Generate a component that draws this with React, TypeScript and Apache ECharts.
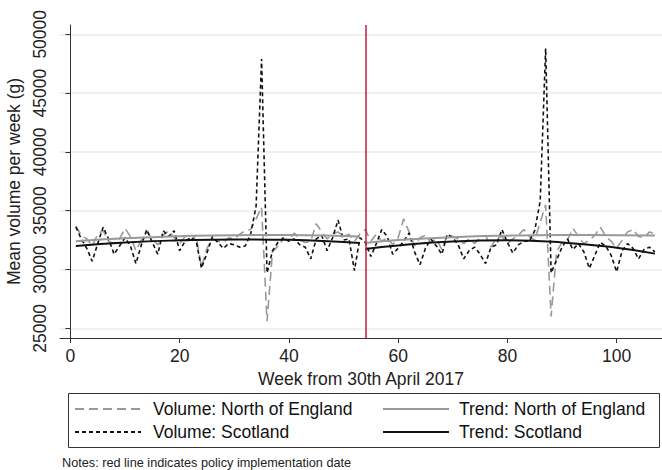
import React, { useEffect, useRef } from "react";
import * as echarts from "echarts";

// Weekly values, weeks 1..107
const volumeNorthEngland = [
  33700, 32900, 32600, 32000, 33000, 33300, 32400, 32200, 32600, 33500,
  32800, 31600, 32500, 33200, 32600, 32100, 32900, 33300, 32700, 32200,
  32800, 32500, 32900, 30200, 31800, 32600, 32400, 32300, 32700, 32600,
  33000, 33300, 33400, 34300, 35300, 25600, 31500, 32000, 32600, 32500,
  33100, 32500, 32300, 32400, 33900, 33200, 32600, 33000, 33200, 32800,
  33000, 32400, 33000,
  33400, 32400, 33000, 32400, 32700, 32100, 32700, 34300, 33200, 32000,
  32700, 32900, 32300, 32600, 31700, 33000, 32800, 32600, 32200, 32600,
  32200, 32700, 32900, 31900, 32700, 32800, 32200, 32600, 32900, 33400,
  32800, 32500, 34000, 35500, 26000, 31500, 32300, 32500, 33500, 32800,
  32200, 32500, 32900, 33600, 32800, 32400, 31800, 32500, 33200, 33400,
  32800, 32700, 33200, 33000,
];

const volumeScotland = [
  33600, 32600, 31800, 30700, 32200, 33600, 32600, 31300, 32000, 32700,
  32000, 30500, 32100, 33400, 32300, 31300, 33300, 32800, 33300, 31600,
  32400, 32700, 32500, 30100, 31400, 32800, 32300, 31800, 32200, 32100,
  31900, 32000, 33000, 35400, 47900, 29700, 31600, 32300, 32700, 32400,
  32600, 32100, 31900, 30900, 32600, 32900, 31600, 32700, 34200, 32500,
  32600, 29900, 32700,
  32300, 31100, 32200, 33400, 32800, 31300, 31800, 32400, 33100, 31500,
  30400, 31800, 32600, 32000, 31300, 33000, 32700, 32100, 30900, 31600,
  31900, 31300, 30500, 31900, 32100, 33400, 32300, 31400, 32100, 32400,
  32400, 33300, 35800, 48800, 29700, 30800, 31900, 32600, 31700, 32200,
  31500, 30100, 31200, 32300, 32000, 31200, 29800, 31600, 32200, 31800,
  30900, 31700, 31900, 31500,
];

// Trend readings (week, value) for the pre- and post-policy periods
const trendWeeksPre = [1, 10, 20, 30, 40, 50, 53];
const trendNorthEnglandPre = [32400, 32650, 32830, 32920, 32930, 32850, 32800];
const trendScotlandPre = [32000, 32300, 32480, 32560, 32520, 32330, 32250];
const trendWeeksPost = [54, 60, 70, 80, 90, 100, 107];
const trendNorthEnglandPost = [32250, 32500, 32750, 32880, 32930, 32920, 32900];
const trendScotlandPost = [31750, 32050, 32380, 32480, 32300, 31850, 31350];

const policyWeek = 54;
const yTicks = [25000, 30000, 35000, 40000, 45000, 50000];
const xTicks = [0, 20, 40, 60, 80, 100];

const FONT = "'Liberation Sans', Arial, sans-serif";
const FS = 17.5;
const GREY = "#999999";
const BLACK = "#111111";

const pairs = (weeks: number[], vals: number[]) => vals.map((v, i) => [weeks[i], v]);
const weekly = (vals: number[]) => vals.map((v, i) => [i + 1, v]);

export default function App() {
  const ref = useRef<HTMLDivElement>(null);
  useEffect(() => {
    if (!ref.current) return;
    const chart = echarts.init(ref.current, null, { renderer: "svg" });
    const trendBase = { type: "line", showSymbol: false, symbol: "none", z: 4 };
    const legendCommon = {
      top: 395,
      orient: "vertical",
      itemWidth: 66,
      itemHeight: 18,
      itemGap: 5,
      itemStyle: { opacity: 0 },
    };
    chart.setOption({
      animation: false,
      backgroundColor: "#ffffff",
      textStyle: { fontFamily: FONT },
      grid: { left: 60, right: 0, top: 25, bottom: 132, containLabel: false, outerBoundsMode: "none" },
      xAxis: {
        type: "value",
        min: -1.9,
        max: 108.3,
        name: "Week from 30th April 2017",
        nameLocation: "middle",
        nameGap: 31,
        nameTextStyle: { fontSize: FS, color: "#222", fontFamily: FONT },
        axisLine: { show: true, lineStyle: { color: "#333", width: 1 } },
        axisTick: { show: true, length: 5, customValues: xTicks, lineStyle: { color: "#333" } },
        axisLabel: { customValues: xTicks, fontSize: FS, color: "#222", margin: 9, fontFamily: FONT },
        splitLine: { show: false },
      },
      yAxis: {
        type: "value",
        min: 24175,
        max: 50790,
        name: "Mean volume per week (g)",
        nameLocation: "middle",
        nameGap: 29,
        nameTextStyle: { fontSize: FS, color: "#222", fontFamily: FONT },
        axisLine: { show: true, lineStyle: { color: "#333", width: 1 } },
        axisTick: { show: true, length: 5, customValues: yTicks, lineStyle: { color: "#333" } },
        axisLabel: {
          customValues: yTicks,
          rotate: 90,
          fontSize: FS,
          color: "#222",
          margin: 11,
          fontFamily: FONT,
          formatter: (v: number) => String(Math.round(v)),
        },
        splitLine: { show: true, lineStyle: { color: "#e6eef2", width: 1.5 } },
      },
      legend: [
        {
          ...legendCommon,
          left: 69,
          textStyle: { fontSize: FS, color: "#111", fontFamily: FONT, padding: [0, 0, 0, 7] },
          data: ["Volume: North of England", "Volume: Scotland"],
        },
        {
          ...legendCommon,
          left: 377,
          textStyle: { fontSize: FS, color: "#111", fontFamily: FONT, padding: [0, 0, 0, 5] },
          data: ["Trend: North of England", "Trend: Scotland"],
        },
      ],
      graphic: [
        {
          type: "rect",
          shape: { x: 68.5, y: 393.5, width: 591, height: 54 },
          style: { fill: "none", stroke: "#333", lineWidth: 1 },
          silent: true,
        },
        {
          type: "text",
          x: 62,
          y: 456,
          style: {
            text: "Notes: red line indicates policy implementation date",
            fontSize: 12.7,
            fill: "#222",
            fontFamily: FONT,
          },
          silent: true,
        },
      ],
      series: [
        {
          name: "Volume: North of England",
          type: "line",
          showSymbol: false,
          symbol: "none",
          data: weekly(volumeNorthEngland),
          lineStyle: { color: GREY, width: 1.6, type: [9, 5] },
          itemStyle: { color: GREY },
          z: 2,
          markLine: {
            silent: true,
            symbol: ["none", "none"],
            label: { show: false },
            lineStyle: { color: "#c8173a", width: 1.5, type: "solid" },
            data: [{ xAxis: policyWeek }],
          },
        },
        {
          name: "Volume: Scotland",
          type: "line",
          showSymbol: false,
          symbol: "none",
          data: weekly(volumeScotland),
          lineStyle: { color: BLACK, width: 1.6, type: [4, 3] },
          itemStyle: { color: BLACK },
          z: 3,
        },
        {
          ...trendBase,
          name: "Trend: North of England",
          smooth: true,
          data: pairs(trendWeeksPre, trendNorthEnglandPre),
          lineStyle: { color: GREY, width: 2, type: "solid" },
          itemStyle: { color: GREY },
        },
        {
          ...trendBase,
          name: "Trend: North of England",
          smooth: true,
          data: pairs(trendWeeksPost, trendNorthEnglandPost),
          lineStyle: { color: GREY, width: 2, type: "solid" },
          itemStyle: { color: GREY },
        },
        {
          ...trendBase,
          name: "Trend: Scotland",
          smooth: true,
          data: pairs(trendWeeksPre, trendScotlandPre),
          lineStyle: { color: BLACK, width: 2, type: "solid" },
          itemStyle: { color: BLACK },
        },
        {
          ...trendBase,
          name: "Trend: Scotland",
          smooth: true,
          data: pairs(trendWeeksPost, trendScotlandPost),
          lineStyle: { color: BLACK, width: 2, type: "solid" },
          itemStyle: { color: BLACK },
        },
      ],
    });
    return () => chart.dispose();
  }, []);
  return (
    <div
      ref={ref}
      style={{ position: "fixed", left: 0, top: 0, width: 662, height: 470, background: "#fff" }}
    />
  );
}
